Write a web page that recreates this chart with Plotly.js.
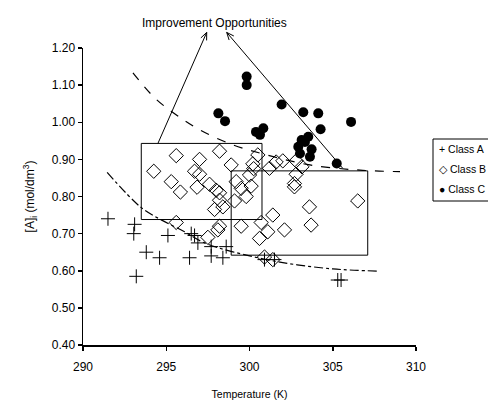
<!DOCTYPE html>
<html>
<head>
<meta charset="utf-8">
<script src="https://cdn.plot.ly/plotly-3.0.1.min.js"></script>
<style>html,body{margin:0;padding:0;background:#fff;}#chart{width:488px;height:407px;}</style>
</head>
<body>
<div id="chart"></div>
<script>
// ---- Data ----
const seriesNames = ["Class A", "Class B", "Class C"];

const classA_T = [291.5, 293.1, 293.05, 295.1, 293.8, 294.6, 293.2, 296.4, 296.5, 296.7, 296.9, 297.7, 297.7, 298.4, 298.6, 300.9, 301.5, 305.3, 305.5];
const classA_C = [0.74, 0.725, 0.70, 0.695, 0.65, 0.635, 0.585, 0.635, 0.70, 0.695, 0.675, 0.64, 0.665, 0.635, 0.665, 0.63, 0.63, 0.575, 0.575];

const classB_T = [294.25, 295.6, 297.0, 296.7, 297.0, 295.3, 295.85, 296.85, 297.6, 298.0, 298.2, 297.9, 295.6, 297.5, 298.1, 298.2,
                  298.9, 300.5, 300.2, 300.25, 301.2, 301.6, 302.0, 302.8, 303.15, 302.8, 302.7, 302.7, 300.0, 299.2, 299.5, 300.1,
                  299.8, 299.1, 298.4, 298.2, 298.2, 303.6, 301.4, 303.7, 302.1, 300.7, 301.1, 300.6, 299.5, 300.9, 301.4, 306.5];
const classB_C = [0.868, 0.91, 0.90, 0.868, 0.86, 0.84, 0.812, 0.825, 0.833, 0.817, 0.922, 0.765, 0.73, 0.69, 0.71, 0.72,
                  0.885, 0.912, 0.888, 0.875, 0.876, 0.893, 0.896, 0.896, 0.88, 0.86, 0.835, 0.826, 0.858, 0.84, 0.822, 0.828,
                  0.80, 0.788, 0.772, 0.79, 0.81, 0.772, 0.75, 0.723, 0.71, 0.73, 0.705, 0.687, 0.72, 0.637, 0.63, 0.788];

const classC_T = [299.83, 299.83, 301.93, 298.13, 298.53, 303.23, 304.13, 304.27, 306.1, 300.39, 300.83, 300.63, 303.13, 303.53, 302.93, 303.73, 303.03, 303.63, 303.33, 305.24];
const classC_C = [1.123, 1.10, 1.048, 1.024, 1.003, 1.027, 1.024, 0.981, 1.001, 0.974, 0.984, 0.966, 0.952, 0.961, 0.934, 0.927, 0.916, 0.907, 0.947, 0.889];

// Upper (dashed) and lower (dash-dot) boundary curves
const upperCurve_T = [293.0, 294.32, 295.63, 297.03, 299.01, 301.05, 303.63, 306.64, 309.04];
const upperCurve_C = [1.133, 1.065, 1.019, 0.979, 0.939, 0.912, 0.885, 0.871, 0.867];
const lowerCurve_T = [291.45, 293.5, 294.7, 296.1, 297.3, 299.0, 302.0, 305.0, 307.8];
const lowerCurve_C = [0.865, 0.77, 0.737, 0.705, 0.675, 0.651, 0.622, 0.605, 0.599];

// Improvement regions [Tmin, Tmax, Cmin, Cmax]
const regionLeft = [293.5, 300.75, 0.738, 0.943];
const regionRight = [298.9, 307.1, 0.642, 0.869];

// Arrows: [tailT, tailC, headT, headC]
const arrowLeft = [294.5, 0.943, 297.43, 1.242];
const arrowRight = [305.6, 0.876, 298.63, 1.242];
const calloutText = "Improvement Opportunities";
const calloutT = 297.9;

const xTicks = [290, 295, 300, 305, 310];
const yTicks = [0.40, 0.50, 0.60, 0.70, 0.80, 0.90, 1.00, 1.10, 1.20];
const xRange = [290, 310];
const yRange = [0.4, 1.2];

// ---- Chart ----
const FONT = "Liberation Sans, Arial, sans-serif";
const W = 488, H = 407, M = {l: 83, r: 72, t: 48, b: 62};
const plotW = W - M.l - M.r, plotH = H - M.t - M.b;

const traces = [
  {x: upperCurve_T, y: upperCurve_C, mode: "lines", line: {color: "#000", width: 1.2, dash: "dash", shape: "spline"}, hoverinfo: "skip", showlegend: false},
  {x: lowerCurve_T, y: lowerCurve_C, mode: "lines", line: {color: "#000", width: 1.2, dash: "dashdot", shape: "spline"}, hoverinfo: "skip", showlegend: false},
  {x: classA_T, y: classA_C, name: seriesNames[0], mode: "markers", marker: {symbol: "cross-thin-open", size: 10, color: "#000", line: {color: "#000", width: 1}}, showlegend: false},
  {x: classB_T, y: classB_C, name: seriesNames[1], mode: "markers", marker: {symbol: "diamond-open", size: 11, color: "#000", line: {color: "#000", width: 1}}, showlegend: false},
  {x: classC_T, y: classC_C, name: seriesNames[2], mode: "markers", marker: {symbol: "circle", size: 10, color: "#000"}, showlegend: false}
];

function rect(r) {
  return {type: "rect", xref: "x", yref: "y", x0: r[0], x1: r[1], y0: r[2], y1: r[3], line: {color: "#000", width: 1}, fillcolor: "rgba(0,0,0,0)", layer: "above"};
}
// arrow drawn as shapes: y given in paper units (converted from the y-axis range) so the head may sit above the plot
const toPaperY = c => (c - yRange[0]) / (yRange[1] - yRange[0]);
const pxPerX = plotW / (xRange[1] - xRange[0]);
function arrowShapes(a) {
  const tx = a[0], ty = toPaperY(a[1]), hx = a[2], hy = toPaperY(a[3]);
  const dxp = (hx - tx) * pxPerX, dyp = (hy - ty) * plotH;
  const len = Math.hypot(dxp, dyp), ux = dxp / len, uy = dyp / len;
  const L = 8, th = 0.4;
  const wing = s => {
    const c = Math.cos(s * th), sn = Math.sin(s * th);
    const wx = -(ux * c - uy * sn) * L, wy = -(ux * sn + uy * c) * L;
    return [hx + wx / pxPerX, hy + wy / plotH];
  };
  const w1 = wing(1), w2 = wing(-1);
  const ln = {color: "#000", width: 1};
  return [
    {type: "line", xref: "x", yref: "paper", x0: tx, y0: ty, x1: hx, y1: hy, line: ln, layer: "above"},
    {type: "path", xref: "x", yref: "paper", path: `M${w1[0]},${w1[1]} L${hx},${hy} L${w2[0]},${w2[1]}`, line: ln, layer: "above"}
  ];
}

const legX0 = (433 - M.l) / plotW, legTop = (H - M.b - 139) / plotH, legBot = (H - M.b - 201) / plotH;
const legendGlyphs = ["+", "\u25C7", "\u25CF"];
const legendAnn = seriesNames.map((n, i) => ({
  xref: "paper", yref: "paper", x: legX0 + 4 / plotW, y: legTop - (10 + 20 * i) / plotH,
  xanchor: "left", yanchor: "middle", showarrow: false,
  text: legendGlyphs[i] + " " + n, font: {family: FONT, size: 10.5, color: "#000"}
}));

const layout = {
  width: W, height: H,
  margin: M,
  paper_bgcolor: "#fff", plot_bgcolor: "#fff",
  showlegend: false,
  xaxis: {
    range: xRange, tickvals: xTicks, ticktext: xTicks.map(String),
    showline: true, linecolor: "#000", linewidth: 1.5, ticks: "outside", ticklen: 4, tickwidth: 1.5, tickcolor: "#000",
    ticklabelstandoff: 6,
    showgrid: false, zeroline: false, tickfont: {family: FONT, size: 12, color: "#000"},
    title: {text: "Temperature (K)", font: {family: FONT, size: 10.5, color: "#000"}, standoff: 17}
  },
  yaxis: {
    range: yRange, tickvals: yTicks, ticktext: yTicks.map(v => v.toFixed(2)),
    showline: true, linecolor: "#000", linewidth: 1.5, ticks: "outside", ticklen: 4, tickwidth: 1.5, tickcolor: "#000",
    showgrid: false, zeroline: false, tickfont: {family: FONT, size: 12, color: "#000"},
    title: {text: "[A]<sub>i</sub> (mol/dm<sup>3</sup>)", font: {family: FONT, size: 12, color: "#000"}, standoff: 14}
  },
  shapes: [
    rect(regionLeft), rect(regionRight),
    {type: "rect", xref: "paper", yref: "paper", x0: legX0, x1: 1.4, y0: legBot, y1: legTop, line: {color: "#000", width: 1}, fillcolor: "#fff"}
  ].concat(arrowShapes(arrowLeft), arrowShapes(arrowRight)),
  annotations: [
    {xref: "x", yref: "paper", x: calloutT, y: (H - M.b - 23) / plotH, text: calloutText, showarrow: false, xanchor: "center", yanchor: "middle", font: {family: FONT, size: 12, color: "#000"}}
  ].concat(legendAnn)
};

Plotly.newPlot("chart", traces, layout, {staticPlot: true, displayModeBar: false});
</script>
</body>
</html>
